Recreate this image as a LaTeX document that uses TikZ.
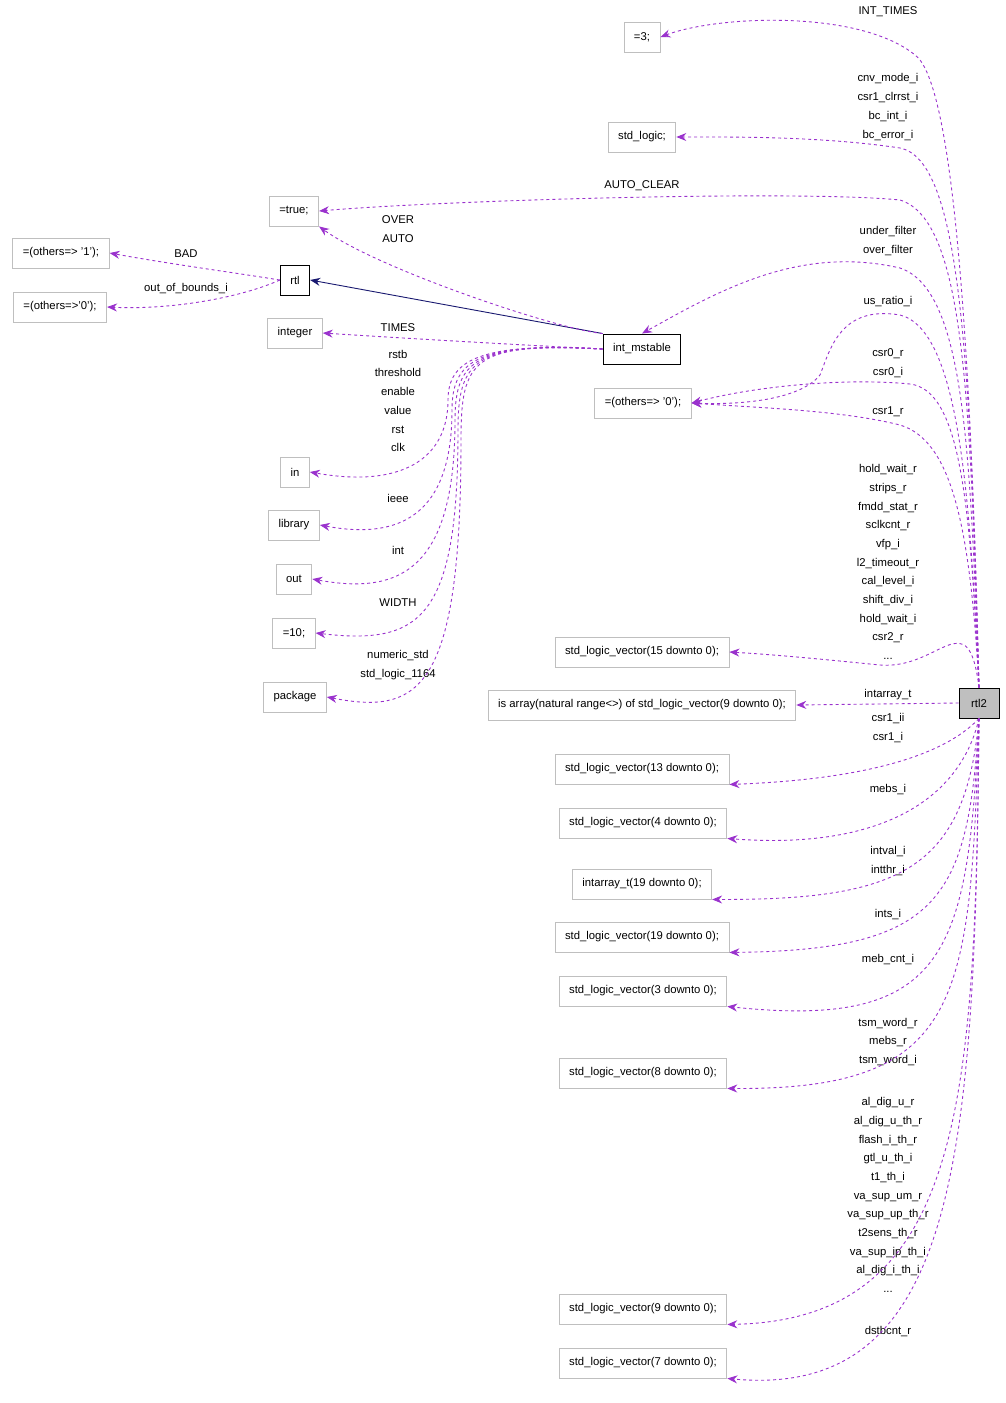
\documentclass[tikz,border=0pt]{standalone}
\usepackage{fontspec}
\setmainfont{Liberation Sans}
\usetikzlibrary{arrows.meta}
\definecolor{dep}{HTML}{9A32CD}
\definecolor{bx}{HTML}{BFBFBF}
\definecolor{nav}{HTML}{191970}
\begin{document}
\begin{tikzpicture}[x=1pt,y=-1pt,
  font=\fontsize{11.3}{18.7}\selectfont,
  box/.style={draw=bx,rectangle,minimum height=30,inner xsep=10,anchor=center,line width=0.9},
  mbox/.style={box,draw=black},
  dep/.style={draw=dep,dashed,line width=0.9,-{Stealth[length=10,width=8]}},
  lbl/.style={align=center,inner sep=0}]
\useasboundingbox (0,0) rectangle (1005,1403);
\node[box] (n3) at (642,37) {=3;};
\node[box] (nsl) at (642,137) {std\_logic;};
\node[box] (ntrue) at (294,211) {=true;};
\node[box] (no1) at (61,253) {=(others=> '1');};
\node[mbox] (nrtl) at (295,280) {rtl};
\node[box] (no0) at (60,307) {=(others=>'0');};
\node[box] (nint) at (295,333) {integer};
\node[mbox] (nims) at (642,349) {int\_mstable};
\node[box] (noz) at (643,403) {=(others=> '0');};
\node[box] (nin) at (295,472) {in};
\node[box] (nlib) at (294,525) {library};
\node[box] (nout) at (294,579) {out};
\node[box] (n10) at (294,633) {=10;};
\node[box] (npkg) at (295,697) {package};
\node[box] (v15) at (642,652) {std\_logic\_vector(15 downto 0);};
\node[box] (varr) at (642,705) {is array(natural range<>) of std\_logic\_vector(9 downto 0);};
\node[draw=black,fill=bx,minimum height=30,minimum width=40,line width=0.9] (rtl2) at (979,703) {rtl2};
\node[box] (v13) at (642,769) {std\_logic\_vector(13 downto 0);};
\node[box] (v4) at (643,823) {std\_logic\_vector(4 downto 0);};
\node[box] (ia19) at (642,884) {intarray\_t(19 downto 0);};
\node[box] (v19) at (642,937) {std\_logic\_vector(19 downto 0);};
\node[box] (v3) at (643,991) {std\_logic\_vector(3 downto 0);};
\node[box] (v8) at (643,1073) {std\_logic\_vector(8 downto 0);};
\node[box] (v9) at (643,1309) {std\_logic\_vector(9 downto 0);};
\node[box] (v7) at (643,1363) {std\_logic\_vector(7 downto 0);};
% labels
\node[lbl] (l1) at (888,12) {INT\_TIMES};
\node[lbl] (l2) at (888,107) {cnv\_mode\_i\\csr1\_clrrst\_i\\bc\_int\_i\\bc\_error\_i};
\node[lbl] (l3) at (642,186) {AUTO\_CLEAR};
\node[lbl] (l4) at (398,229) {OVER\\AUTO};
\node[lbl] (l5) at (186,254) {BAD};
\node[lbl] (l6) at (186,289) {out\_of\_bounds\_i};
\node[lbl] (l7) at (888,241) {under\_filter\\over\_filter};
\node[lbl] (l8) at (398,328) {TIMES};
\node[lbl] (l9) at (888,302) {us\_ratio\_i};
\node[lbl] (l10) at (888,363) {csr0\_r\\csr0\_i};
\node[lbl] (l11) at (888,412) {csr1\_r};
\node[lbl] (l12) at (398,401) {rstb\\threshold\\enable\\value\\rst\\clk};
\node[lbl] (l13) at (888,562) {hold\_wait\_r\\strips\_r\\fmdd\_stat\_r\\sclkcnt\_r\\vfp\_i\\l2\_timeout\_r\\cal\_level\_i\\shift\_div\_i\\hold\_wait\_i\\csr2\_r\\...};
\node[lbl] (l14) at (398,498) {ieee};
\node[lbl] (l15) at (398,550) {int};
\node[lbl] (l16) at (398,603) {WIDTH};
\node[lbl] (l17) at (398,665) {numeric\_std\\std\_logic\_1164};
\node[lbl] (l18) at (888,695) {intarray\_t};
\node[lbl] (l19) at (888,728) {csr1\_ii\\csr1\_i};
\node[lbl] (l20) at (888,790) {mebs\_i};
\node[lbl] (l21) at (888,861) {intval\_i\\intthr\_i};
\node[lbl] (l22) at (888,915) {ints\_i};
\node[lbl] (l23) at (888,960) {meb\_cnt\_i};
\node[lbl] (l24) at (888,1042) {tsm\_word\_r\\mebs\_r\\tsm\_word\_i};
\node[lbl] (l25) at (888,1195) {al\_dig\_u\_r\\al\_dig\_u\_th\_r\\flash\_i\_th\_r\\gtl\_u\_th\_i\\t1\_th\_i\\va\_sup\_um\_r\\va\_sup\_up\_th\_r\\t2sens\_th\_r\\va\_sup\_ip\_th\_i\\al\_dig\_i\_th\_i\\...};
\node[lbl] (l26) at (888,1332) {dstbcnt\_r};
% rtl -> int_mstable
\draw[nav,line width=0.9,-{Stealth[length=10,width=8]}] (nims.north west) -- (nrtl.east);
% int_mstable edges
\draw[dep] (nims.north west) .. controls (560,330) and (380,270) .. (ntrue.south east);
\draw[dep] (nims.west) .. controls (520,345) and (400,338) .. (nint.east);
\draw[dep] (nims.west) .. controls (480,342) and (448,360) .. (448,400) .. controls (448,460) and (400,488) .. (nin.east);
\draw[dep] (nims.west) .. controls (478,342) and (452,360) .. (452,410) .. controls (452,515) and (400,540) .. (nlib.east);
\draw[dep] (nims.west) .. controls (476,342) and (455,360) .. (455,420) .. controls (455,570) and (400,595) .. (nout.east);
\draw[dep] (nims.west) .. controls (474,342) and (458,360) .. (458,430) .. controls (458,620) and (420,645) .. (n10.east);
\draw[dep] (nims.west) .. controls (472,342) and (461,360) .. (461,440) .. controls (461,690) and (420,715) .. (npkg.east);
% rtl edges
\draw[dep] (nrtl.west) .. controls (230,272) and (170,264) .. (no1.east);
\draw[dep] (nrtl.west) .. controls (240,298) and (170,310) .. (no0.east);
% rtl2 upward
\draw[dep] (rtl2.north) .. controls (970,300) and (950,80) .. (915,55) .. controls (860,10) and (720,15) .. (n3.east);
\draw[dep] (rtl2.north) .. controls (970,350) and (960,160) .. (900,148) .. controls (820,136) and (730,137) .. (nsl.east);
\draw[dep] (rtl2.north) .. controls (970,400) and (965,220) .. (900,200) .. controls (800,190) and (450,200) .. (ntrue.east);
\draw[dep] (rtl2.north) .. controls (970,450) and (965,290) .. (900,268) .. controls (800,245) and (720,290) .. (nims.north);
\draw[dep] (rtl2.north) .. controls (970,500) and (960,330) .. (900,315) .. controls (840,305) and (830,350) .. (820,375) .. controls (800,400) and (740,405) .. (noz.east);
\draw[dep] (rtl2.north) .. controls (970,500) and (960,390) .. (910,384) .. controls (850,378) and (760,385) .. (noz.east);
\draw[dep] (rtl2.north) .. controls (970,520) and (950,440) .. (900,425) .. controls (840,410) and (760,408) .. (noz.east);
\draw[dep] (rtl2.north) .. controls (968,600) and (940,670) .. (880,665) .. controls (830,660) and (780,655) .. (v15.east);
\draw[dep] (rtl2.west) -- (varr.east);
% rtl2 downward
\draw[dep] (rtl2.south) .. controls (940,760) and (850,780) .. (v13.south east);
\draw[dep] (rtl2.south) .. controls (960,800) and (880,850) .. (v4.south east);
\draw[dep] (rtl2.south) .. controls (965,870) and (900,900) .. (ia19.south east);
\draw[dep] (rtl2.south) .. controls (968,900) and (940,950) .. (v19.south east);
\draw[dep] (rtl2.south) .. controls (968,950) and (950,1030) .. (v3.south east);
\draw[dep] (rtl2.south) .. controls (970,1000) and (965,1090) .. (v8.south east);
\draw[dep] (rtl2.south) .. controls (975,1100) and (965,1320) .. (v9.south east);
\draw[dep] (rtl2.south) .. controls (975,1150) and (960,1400) .. (v7.south east);
\end{tikzpicture}
\end{document}
